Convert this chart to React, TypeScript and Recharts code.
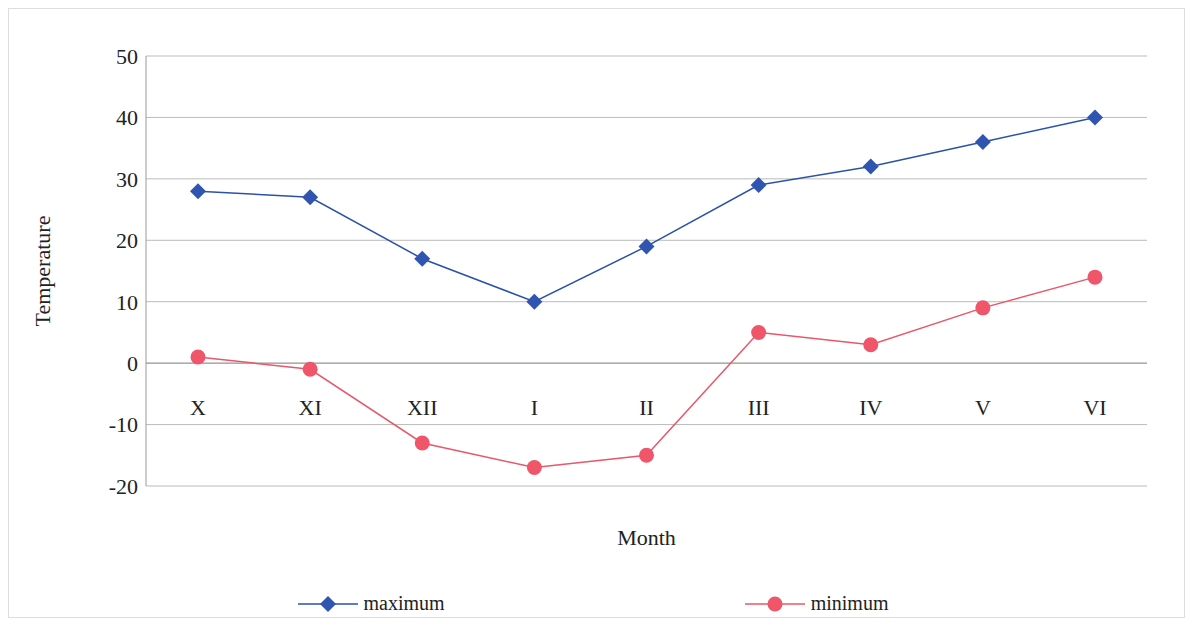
import React from "react";
import { LineChart, Line, XAxis, YAxis, CartesianGrid, ReferenceLine, Legend } from "recharts";

const months = ["X", "XI", "XII", "I", "II", "III", "IV", "V", "VI"];
const maximum = [28, 27, 17, 10, 19, 29, 32, 36, 40];
const minimum = [1, -1, -13, -17, -15, 5, 3, 9, 14];
const yTicks = [-20, -10, 0, 10, 20, 30, 40, 50];

const data = months.map((m, i) => ({ m, maximum: maximum[i], minimum: minimum[i] }));

const Diamond = (props: any) => {
  const { cx, cy } = props;
  if (cx == null) return null;
  const r = 8;
  return <path d={`M${cx},${cy - r}L${cx + r},${cy}L${cx},${cy + r}L${cx - r},${cy}Z`} fill="#2f55b0" />;
};
const Dot = (props: any) => {
  const { cx, cy } = props;
  if (cx == null) return null;
  return <circle cx={cx} cy={cy} r={7.5} fill="#f0566a" />;
};

const XTick = (props: any) => {
  const { x, y, payload } = props;
  return (
    <text x={x} y={y - 79} textAnchor="middle" fontSize={22} fill="#222" fontFamily="Liberation Serif">
      {payload.value}
    </text>
  );
};

const LegendContent = () => (
  <div style={{ display: "flex", justifyContent: "center", gap: 300, fontFamily: "Liberation Serif", fontSize: 20, color: "#222", marginLeft: 0 }}>
    <div style={{ display: "flex", alignItems: "center", gap: 6 }}>
      <svg width={60} height={20}>
        <line x1={0} y1={10} x2={60} y2={10} stroke="#2a52a8" strokeWidth={1.5} />
        <path d="M30,2L38,10L30,18L22,10Z" fill="#2f55b0" />
      </svg>
      maximum
    </div>
    <div style={{ display: "flex", alignItems: "center", gap: 6 }}>
      <svg width={60} height={20}>
        <line x1={0} y1={10} x2={60} y2={10} stroke="#e8576a" strokeWidth={1.5} />
        <circle cx={30} cy={10} r={7.5} fill="#f0566a" />
      </svg>
      minimum
    </div>
  </div>
);

export default function App() {
  return (
    <div style={{ width: 1177, height: 610, border: "1px solid #ddd", boxSizing: "border-box", background: "#fff" }}>
      <LineChart width={1175} height={608} data={data} margin={{ top: 47, right: 37, left: 30, bottom: 46 }}>
        <CartesianGrid vertical={false} stroke="#bbb" />
        <XAxis dataKey="m" axisLine={false} tickLine={false} tick={<XTick />} height={62} padding={{ left: 52, right: 52 }}
          label={{ value: "Month", position: "insideBottom", dy: 2, fontSize: 22, fill: "#222", fontFamily: "Liberation Serif" }} />
        <YAxis domain={[-20, 50]} ticks={yTicks} width={107} axisLine={{ stroke: "#999" }} tickLine={false}
          tick={{ fontSize: 22, fill: "#222", fontFamily: "Liberation Serif" }}
          label={{ value: "Temperature", angle: -90, position: "insideLeft", dx: -2, fontSize: 22, fill: "#222", fontFamily: "Liberation Serif", style: { textAnchor: "middle" } }} />
        <ReferenceLine y={0} stroke="#999" />
        <Line dataKey="maximum" stroke="#2a52a8" strokeWidth={1.5} dot={<Diamond />} isAnimationActive={false} />
        <Line dataKey="minimum" stroke="#e8576a" strokeWidth={1.5} dot={<Dot />} isAnimationActive={false} />
        <Legend verticalAlign="bottom" content={<LegendContent />} wrapperStyle={{ bottom: 2 }} />
      </LineChart>
    </div>
  );
}
